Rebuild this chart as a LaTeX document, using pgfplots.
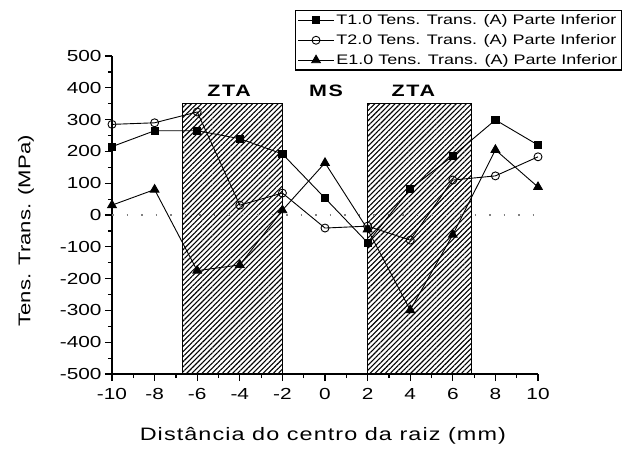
\documentclass[border=0pt]{standalone}
\usepackage{pgfplots}
\pgfplotsset{compat=1.18}
\usepackage{fontspec}
\setmainfont[FakeStretch=1.3]{Liberation Sans}
\usetikzlibrary{patterns.meta}

\begin{document}
\begin{tikzpicture}
\begin{axis}[
  scale only axis,
  width=426pt, height=318pt,
  xmin=-10, xmax=10, ymin=-500, ymax=500,
  axis lines*=left,
  axis line style={line width=1.4pt},
  xtick={-10,-8,...,10},
  ytick={-500,-400,...,500},
  minor x tick num=1,
  minor y tick num=1,
  tick align=outside,
  major tick length=7pt,
  minor tick length=4pt,
  every tick/.style={black, line width=1.2pt},
  /pgf/number format/assume math mode=true,
  tick label style={font=\fontsize{16}{18}\selectfont},
  xticklabel style={yshift=-4pt},
  xlabel={\addfontfeature{LetterSpace=6}Distância do centro da raiz (mm)},
  xlabel style={font=\fontsize{18}{20}\selectfont, at={(axis description cs:0.495,-0.195)}, anchor=center},
  ylabel={Tens. Trans. (MPa)},
  ylabel style={font=\fontsize{17}{20}\selectfont, at={(axis description cs:-0.202,0.45)}, anchor=center},
  clip=false,
  legend style={at={(1.197,1.145)}, anchor=north east, draw=black, line width=1.2pt,
    font=\fontsize{13.8}{15}\selectfont, inner sep=2pt, row sep=4.5pt,
    cells={anchor=west}},
  legend image code/.code={\draw[mark repeat=2,mark phase=2,#1] plot coordinates {(0pt,0pt)(18pt,0pt)(36pt,0pt)};},
]
% heat-affected zones
\addplot[draw=black, line width=1pt, pattern={Lines[angle=45, distance=3.6pt, line width=1.1pt]}, forget plot]
  coordinates {(-6.7,-500) (-6.7,350) (-2,350) (-2,-500)} -- cycle;
\addplot[draw=black, line width=1pt, pattern={Lines[angle=45, distance=3.6pt, line width=1.1pt]}, forget plot]
  coordinates {(2,-500) (2,350) (6.9,350) (6.9,-500)} -- cycle;
% fusion line boundaries
\addplot[black, line width=1.6pt, densely dotted, forget plot] coordinates {(-2,-500) (-2,350)};
\addplot[black, line width=1.6pt, densely dotted, forget plot] coordinates {(2,-500) (2,350)};
% zero reference
\addplot[gray, line width=1.2pt, dash pattern=on 1.5pt off 13pt, forget plot] coordinates {(-10,0) (10,0)};

\addplot[black, line width=0.9pt, mark=square*, mark size=3.6pt, mark options={solid}]
  coordinates {(-10,215)(-8,265)(-6,265)(-4,240)(-2,192)(0,53)(2,-87)(4,82)(6,186)(8,299)(10,220)};
\addlegendentry{T1.0 Tens. Trans. (A) Parte Inferior}
\addplot[black, line width=0.9pt, mark=o, mark size=4pt, mark options={fill=white, solid}]
  coordinates {(-10,285)(-8,290)(-6,324)(-4,31)(-2,69)(0,-41)(2,-35)(4,-79)(6,110)(8,123)(10,183)};
\addlegendentry{T2.0 Tens. Trans. (A) Parte Inferior}
\addplot[black, line width=0.9pt, mark=triangle*, mark size=5pt, mark options={solid}]
  coordinates {(-10,31)(-8,80)(-6,-175)(-4,-157)(-2,15)(0,164)(2,-45)(4,-299)(6,-62)(8,205)(10,88)};
\addlegendentry{E1.0 Tens. Trans. (A) Parte Inferior}

\node[font=\bfseries\fontsize{16.5}{20}\selectfont\addfontfeature{LetterSpace=10}] at (axis cs:-4.5,390) {ZTA};
\node[font=\bfseries\fontsize{16.5}{20}\selectfont\addfontfeature{LetterSpace=10}] at (axis cs:0.05,390) {MS};
\node[font=\bfseries\fontsize{16.5}{20}\selectfont\addfontfeature{LetterSpace=10}] at (axis cs:4.15,390) {ZTA};
\end{axis}
\pgfresetboundingbox
\path (-112pt,-74pt) rectangle (516pt,374pt);
\end{tikzpicture}
\end{document}
